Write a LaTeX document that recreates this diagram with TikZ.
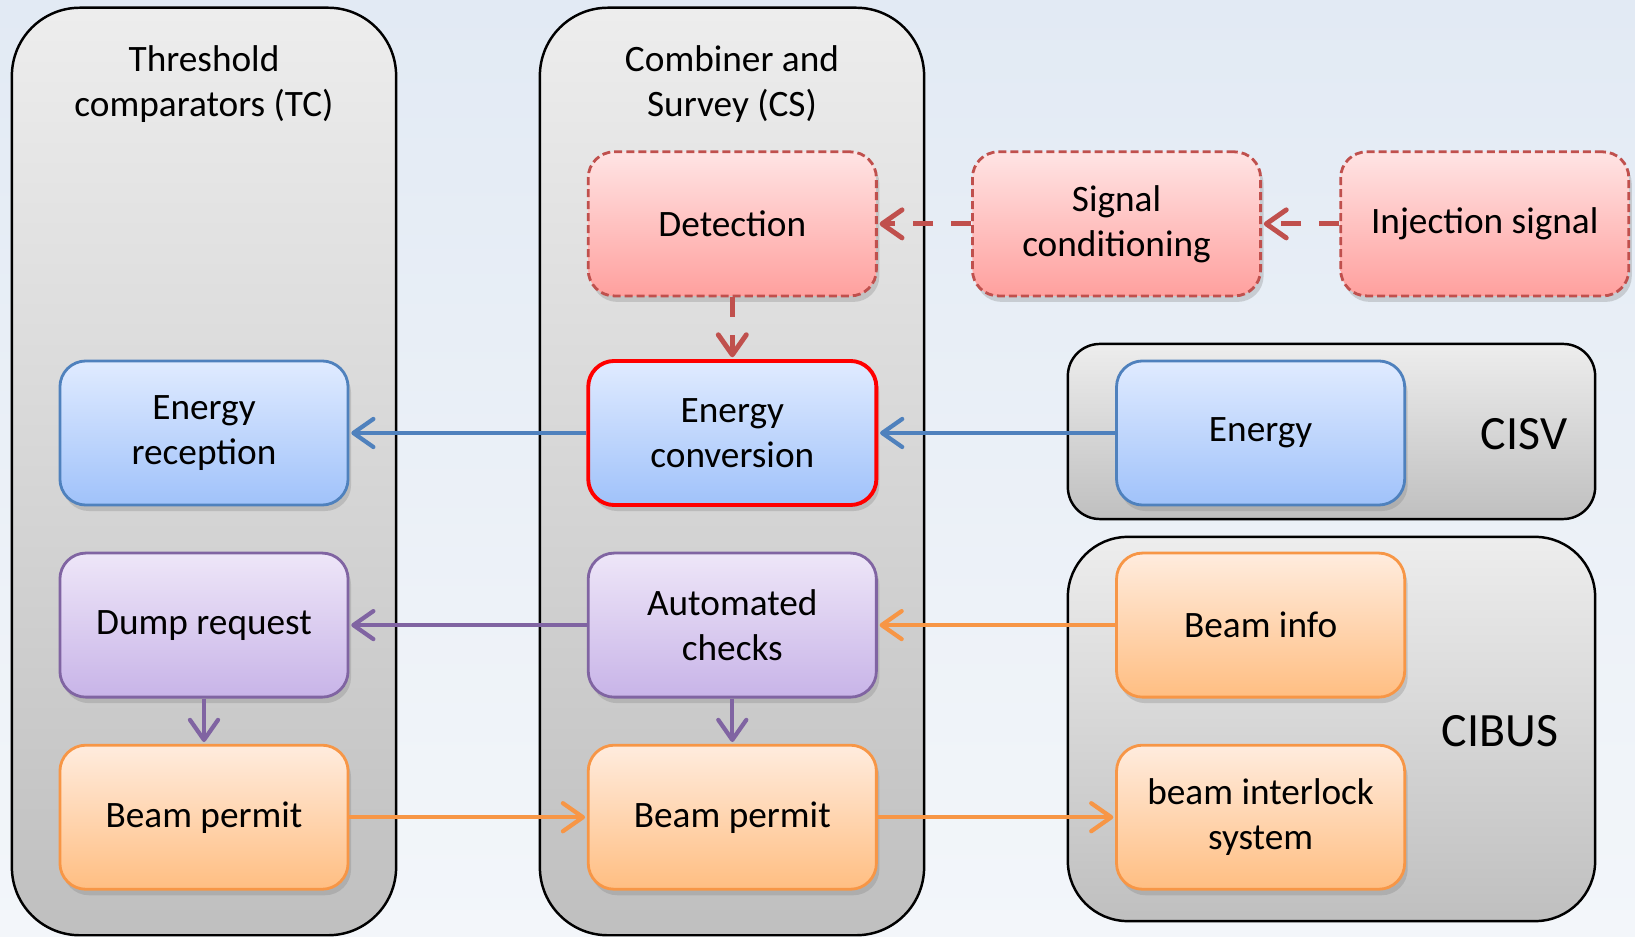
\documentclass[tikz,border=0pt]{standalone}
\usepackage{fontspec}
\setmainfont{Carlito}
\usetikzlibrary{positioning,arrows.meta,shadows}

\definecolor{redline}{RGB}{192,80,77}
\definecolor{blueline}{RGB}{79,129,189}
\definecolor{purpleline}{RGB}{128,100,162}
\definecolor{orangeline}{RGB}{247,150,70}

\tikzset{
  box/.style={rectangle, rounded corners=0.26cm, minimum width=2.88cm,
    minimum height=1.44cm, align=center, line width=0.8pt,
    font=\fontsize{10.6}{12.8}\selectfont,
    drop shadow={shadow xshift=0.3mm, shadow yshift=-0.6mm, opacity=0.3}},
  redbox/.style={box, draw=redline, dash pattern=on 0.8mm off 0.4mm,
    top color={rgb,255:red,255;green,228;blue,228}, bottom color={rgb,255:red,255;green,160;blue,158}},
  bluebox/.style={box, draw=blueline,
    top color={rgb,255:red,224;green,235;blue,255}, bottom color={rgb,255:red,160;green,194;blue,250}},
  purplebox/.style={box, draw=purpleline,
    top color={rgb,255:red,238;green,230;blue,248}, bottom color={rgb,255:red,200;green,180;blue,232}},
  orangebox/.style={box, draw=orangeline,
    top color={rgb,255:red,255;green,236;blue,222}, bottom color={rgb,255:red,255;green,190;blue,130}},
  panel/.style={rectangle, draw=black, line width=0.7pt,
    top color=black!7, bottom color=black!25},
  title/.style={align=center, font=\fontsize{10.6}{12.8}\selectfont},
  biglabel/.style={font=\fontsize{13.6}{16}\selectfont},
  link/.style={->, line width=1.2pt, shorten >=0.5pt},
  >={Straight Barb[length=2mm,width=2.8mm,round]}
}

\begin{document}
\begin{tikzpicture}[x=0.01cm, y=-0.01cm, node distance=1.92cm, on grid]
  \useasboundingbox (0,0) rectangle (1635,937);
  \fill[top color={rgb,255:red,226;green,234;blue,244}, bottom color={rgb,255:red,243;green,246;blue,250}]
    (0,0) rectangle (1635,937);

  % containers
  \node[panel, rounded corners=0.68cm, minimum width=3.84cm, minimum height=9.27cm] (tc) at (204,471.5) {};
  \node[panel, rounded corners=0.68cm, minimum width=3.84cm, minimum height=9.27cm] (cs) at (732,471.5) {};
  \node[panel, rounded corners=0.32cm, minimum width=5.27cm, minimum height=1.75cm] (cisv) at (1331.5,431.5) {};
  \node[panel, rounded corners=0.6cm, minimum width=5.27cm, minimum height=3.84cm] (cibus) at (1331.5,729) {};

  \node[title] (tctitle) at (204,84) {Threshold\\comparators (TC)};
  \node[title] (cstitle) at (732,84) {Combiner and\\Survey (CS)};
  \node[biglabel] (cisvlabel) at (1524,434) {CISV};
  \node[biglabel] (cibuslabel) at (1500,731) {CIBUS};

  % blocks
  \node[bluebox] (er) at (204,433) {Energy\\reception};
  \node[bluebox, draw=red, line width=1.1pt] (ec) [right=5.28cm of er] {Energy\\conversion};
  \node[bluebox] (en) [right=5.28cm of ec] {Energy};
  \node[redbox] (det) [above=2.09cm of ec] {Detection};
  \node[redbox] (sc) [right=3.84cm of det] {Signal\\conditioning};
  \node[redbox] (inj) [right=3.68cm of sc] {Injection signal};
  \node[purplebox] (dr) [below=of er] {Dump request};
  \node[purplebox] (ac) [below=of ec] {Automated\\checks};
  \node[orangebox] (bi) [below=of en] {Beam info};
  \node[orangebox] (bpl) [below=of dr] {Beam permit};
  \node[orangebox] (bpm) [below=of ac] {Beam permit};
  \node[orangebox] (bis) [below=of bi] {beam interlock\\system};

  % connections
  \path[link, draw=redline, line width=1.4pt, dash pattern=on 2mm off 1.8mm]
    (inj) edge (sc)
    (sc) edge (det)
    (det) edge (ec);
  \path[link, draw=blueline]
    (en) edge (ec)
    (ec) edge (er);
  \path[link, draw=purpleline]
    (ac) edge (dr)
    (dr) edge (bpl)
    (ac) edge (bpm);
  \path[link, draw=orangeline]
    (bi) edge (ac)
    (bpl) edge (bpm)
    (bpm) edge (bis);
\end{tikzpicture}
\end{document}
